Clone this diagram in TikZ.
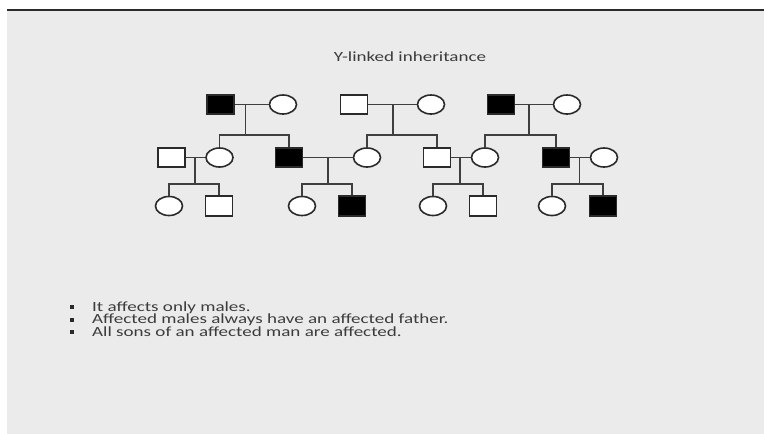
\documentclass[tikz,border=0pt]{standalone}
\usepackage{fontspec}
\setmainfont{Carlito}
\usetikzlibrary{shapes.geometric,calc}
\definecolor{slidebg}{HTML}{EBEBEB}
\definecolor{ink}{HTML}{2A2A2A}
\definecolor{txt}{HTML}{3C3C3C}
\tikzset{
  male/.style={draw=ink, line width=1.6pt, fill=white, rectangle,
    minimum width=27pt, minimum height=19.5pt, inner sep=0pt},
  affmale/.style={male, fill=black},
  female/.style={draw=ink, line width=1.6pt, fill=white, ellipse,
    minimum width=27pt, minimum height=19pt, inner sep=0pt},
  ln/.style={draw=ink!90, line width=1.5pt},
  txtline/.style={anchor=base west, inner sep=0pt, text=txt,
    font=\fontsize{14pt}{16pt}\selectfont},
  bul/.style={rectangle, fill=ink, minimum size=4pt, inner sep=0pt}
}
\newcommand{\wide}[1]{\scalebox{1.36}[1]{#1}}
\begin{document}
\begin{tikzpicture}[x=1pt,y=-1pt]
\useasboundingbox (0,0) rectangle (764,434);
% slide background and top rule
\fill[white] (0,0) rectangle (764,434);
\fill[slidebg] (7,11) rectangle (764,434);
\fill[ink] (7,8.5) rectangle (764,11);

% title
\node[anchor=base, inner sep=0pt, text=txt,
  font=\fontsize{14pt}{16pt}\selectfont] (title) at (410,61)
  {\wide{Y-linked inheritance}};

% generation I
\node[affmale] (A) at (220.5,104.5) {};
\node[female]  (B) at (283,104.5) {};
\node[male]    (C) at (354,104.5) {};
\node[female]  (D) at (431,104.5) {};
\node[affmale] (E) at (501,104.5) {};
\node[female]  (F) at (567,104.5) {};

% generation II
\node[male]    (G) at (171.5,157.5) {};
\node[female]  (H) at (219.5,157.5) {};
\node[affmale] (I) at (289,157.5) {};
\node[female]  (J) at (367,157.5) {};
\node[male]    (K) at (437,157.5) {};
\node[female]  (L) at (485,157.5) {};
\node[affmale] (M) at (556,157.5) {};
\node[female]  (N) at (604,157.5) {};

% generation III
\node[female]  (G1) at (169,206) {};
\node[male]    (G2) at (219,206) {};
\node[female]  (I1) at (302,206) {};
\node[affmale] (I2) at (352,206) {};
\node[female]  (K1) at (433,206) {};
\node[male]    (K2) at (483,206) {};
\node[female]  (M1) at (552,206) {};
\node[affmale] (M2) at (603,206) {};

% points where the descent lines leave the marriage lines
\coordinate (mAB) at (245.5,104.5);
\coordinate (mCD) at (393,104.5);
\coordinate (mEF) at (529,104.5);
\coordinate (mGH) at (195,157.5);
\coordinate (mIJ) at (328,157.5);
\coordinate (mKL) at (460,157.5);
\coordinate (mMN) at (579.5,157.5);

% marriage lines
\draw[ln] (A) -- (B);
\draw[ln] (C) -- (D);
\draw[ln] (E) -- (F);
\draw[ln] (G) -- (H);
\draw[ln] (I) -- (J);
\draw[ln] (K) -- (L);
\draw[ln] (M) -- (N);

% descent lines and sibling bars, generation I to II
\draw[ln] (mAB) -- (mAB |- 0,135);
\draw[ln] (H.north) |- (mAB |- 0,135) -| (I.north);
\draw[ln] (mCD) -- (mCD |- 0,135);
\draw[ln] (J.north) |- (mCD |- 0,135) -| (K.north);
\draw[ln] (mEF) -- (mEF |- 0,135);
\draw[ln] (L.north) |- (mEF |- 0,135) -| (M.north);

% descent lines and sibling bars, generation II to III
\draw[ln] (mGH) -- (mGH |- 0,184);
\draw[ln] (G1.north) |- (mGH |- 0,184) -| (G2.north);
\draw[ln] (mIJ) -- (mIJ |- 0,184);
\draw[ln] (I1.north) |- (mIJ |- 0,184) -| (I2.north);
\draw[ln] (mKL) -- (mKL |- 0,184);
\draw[ln] (K1.north) |- (mKL |- 0,184) -| (K2.north);
\draw[ln] (mMN) -- (mMN |- 0,184);
\draw[ln] (M1.north) |- (mMN |- 0,184) -| (M2.north);

% bullet list
\node[bul] (b1) at (72,307) {};
\node[bul] (b2) at (72,319.5) {};
\node[bul] (b3) at (72,332) {};
\node[txtline] (t1) at (92,311) {\wide{It affects only males.}};
\node[txtline] (t2) at (92,323.5) {\wide{Affected males always have an affected father.}};
\node[txtline] (t3) at (92,336) {\wide{All sons of an affected man are affected.}};
\end{tikzpicture}
\end{document}
